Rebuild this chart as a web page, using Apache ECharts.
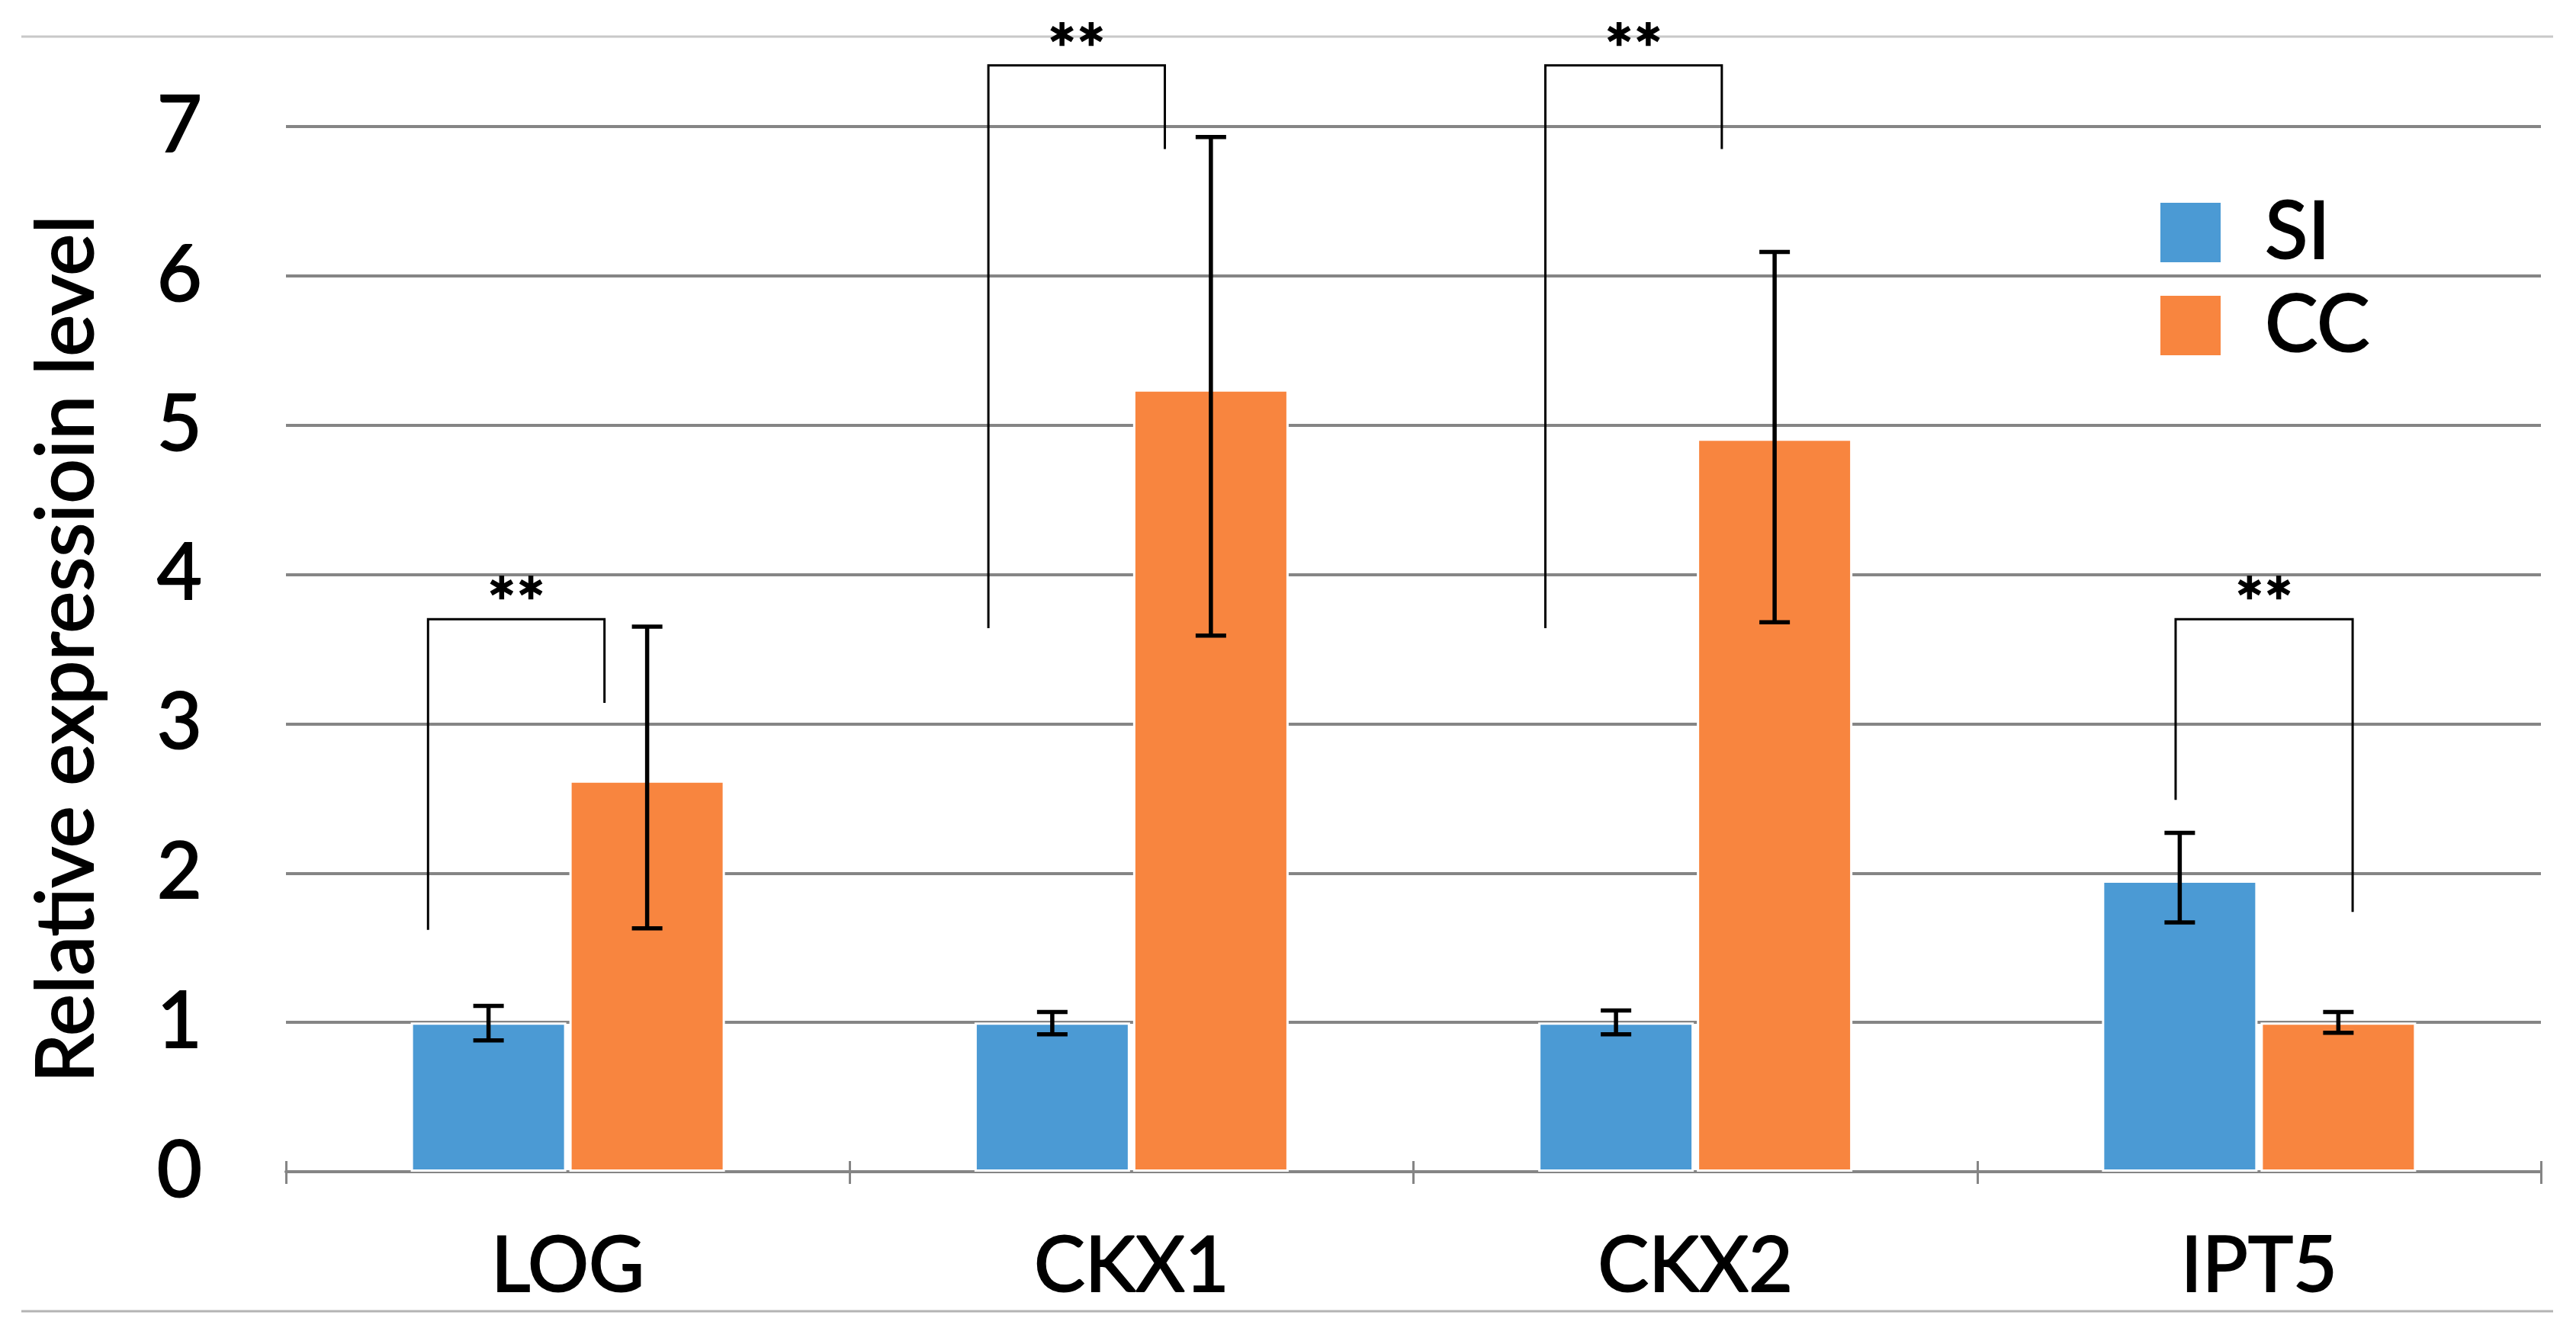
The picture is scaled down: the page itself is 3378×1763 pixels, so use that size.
<!DOCTYPE html>
<html>
<head>
<meta charset="utf-8">
<script src="https://cdn.jsdelivr.net/npm/echarts@6/dist/echarts.min.js"></script>
<style>
html,body{margin:0;padding:0;background:#fff;}
#chart{width:3378px;height:1763px;}
</style>
</head>
<body>
<div id="chart"></div>
<script>
// ---- data ----
const categories = ['LOG', 'CKX1', 'CKX2', 'IPT5'];
const seriesNames = ['SI', 'CC'];
const siValues = [1.00, 1.00, 1.00, 1.95];
const ccValues = [2.62, 5.24, 4.91, 1.00];
const siErrLow  = [0.88, 0.92, 0.92, 1.67];
const siErrHigh = [1.11, 1.07, 1.08, 2.27];
const ccErrLow  = [1.63, 3.59, 3.68, 0.93];
const ccErrHigh = [3.65, 6.93, 6.16, 1.07];
const yTickValues = [0, 1, 2, 3, 4, 5, 6, 7];
const sigLabels = ['**', '**', '**', '**'];
const bracketTop = [3.70, 7.41, 7.41, 3.70];
const bracketLeftEnd = [1.62, 3.64, 3.64, 2.49];
const bracketRightEnd = [3.14, 6.85, 6.85, 1.74];

// ---- layout / style (not data) ----
const bracketLegLeft = [-0.248, -0.254, -0.266, -0.148];   // fraction of band from category centre
const bracketLegRight = [0.065, 0.059, 0.047, 0.166];
const BLUE = '#4B9AD4', ORANGE = '#F8853F', GRID = '#858585';
const FONT = 'Lato';
const BAR_W = 204, BAR_GAP_PX = 4;
const barOffset = (BAR_W + BAR_GAP_PX) / 2;
const thick = {textBorderColor: '#000', textBorderWidth: 2};

const chart = echarts.init(document.getElementById('chart'), null, {renderer: 'canvas'});

function errRender(sign) {
  return function (params, api) {
    const i = api.value(0);
    const lo = api.coord([i, api.value(1)]);
    const hi = api.coord([i, api.value(2)]);
    const x = lo[0] + sign * barOffset;
    const cap = 20;
    const st = {stroke: '#000', lineWidth: 5.5};
    return {
      type: 'group',
      children: [
        {type: 'line', shape: {x1: x, y1: lo[1], x2: x, y2: hi[1]}, style: st},
        {type: 'line', shape: {x1: x - cap, y1: lo[1], x2: x + cap, y2: lo[1]}, style: st},
        {type: 'line', shape: {x1: x - cap, y1: hi[1], x2: x + cap, y2: hi[1]}, style: st}
      ]
    };
  };
}

function bracketRender(params, api) {
  const i = api.value(0);
  const bw = api.size([1, 0])[0];
  const t = api.coord([i, api.value(1)]);
  const l = api.coord([i, api.value(2)]);
  const r = api.coord([i, api.value(3)]);
  const xl = t[0] + bracketLegLeft[i] * bw;
  const xr = t[0] + bracketLegRight[i] * bw;
  return {
    type: 'group',
    children: [
      {type: 'polyline', shape: {points: [[xl, l[1]], [xl, t[1]], [xr, t[1]], [xr, r[1]]]},
       style: {stroke: '#000', lineWidth: 3, fill: null}},
      {type: 'text', x: (xl + xr) / 2, y: t[1] - 17,
       style: {text: sigLabels[i], font: '90px ' + FONT, fill: '#000',
               stroke: '#000', lineWidth: 2.5,
               align: 'center', verticalAlign: 'middle'}}
    ]
  };
}

const option = {
  backgroundColor: '#fff',
  animation: false,
  grid: {left: 375, right: 46, top: 166, bottom: 226},
  legend: {
    data: seriesNames,
    orient: 'vertical',
    left: 2828, top: 247,
    icon: 'rect',
    itemWidth: 79, itemHeight: 78, itemGap: 16,
    itemStyle: {borderWidth: 0},
    textStyle: Object.assign({fontFamily: FONT, fontSize: 104, color: '#000', padding: [0, 0, 0, 53]}, thick)
  },
  graphic: [
    {type: 'line', shape: {x1: 28, y1: 48, x2: 3348, y2: 48}, style: {stroke: '#c8c8c8', lineWidth: 3}},
    {type: 'line', shape: {x1: 28, y1: 1720, x2: 3348, y2: 1720}, style: {stroke: '#b4b4b4', lineWidth: 3}}
  ],
  xAxis: [{
    type: 'category', data: categories,
    axisLine: {lineStyle: {color: GRID, width: 4}},
    axisTick: {show: true, length: 16, lineStyle: {color: GRID, width: 3}},
    axisLabel: Object.assign({fontFamily: FONT, fontSize: 100, color: '#000', margin: 75}, thick),
    splitLine: {show: false}
  }, {
    type: 'category', data: categories, position: 'bottom',
    axisLine: {show: false},
    axisTick: {show: true, inside: true, length: 14, lineStyle: {color: GRID, width: 3}},
    axisLabel: {show: false}
  }],
  yAxis: {
    type: 'value', min: yTickValues[0], max: yTickValues[yTickValues.length - 1], interval: 1,
    axisLine: {show: false}, axisTick: {show: false},
    axisLabel: Object.assign({fontFamily: FONT, fontSize: 102, color: '#000', margin: 110}, thick),
    splitLine: {lineStyle: {color: GRID, width: 4}},
    name: 'Relative expressioin level', nameLocation: 'middle', nameGap: 235,
    nameTextStyle: Object.assign({fontFamily: FONT, fontSize: 104, color: '#000'}, thick)
  },
  series: [
    {name: seriesNames[0], type: 'bar', data: siValues, barWidth: BAR_W, barGap: (BAR_GAP_PX / BAR_W * 100) + '%',
     itemStyle: {color: BLUE, borderColor: '#fff', borderWidth: 3}},
    {name: seriesNames[1], type: 'bar', data: ccValues, barWidth: BAR_W,
     itemStyle: {color: ORANGE, borderColor: '#fff', borderWidth: 3}},
    {type: 'custom', renderItem: errRender(-1), z: 5, clip: false,
     data: categories.map((c, i) => [i, siErrLow[i], siErrHigh[i]]), encode: {x: 0, y: [1, 2]}},
    {type: 'custom', renderItem: errRender(1), z: 5, clip: false,
     data: categories.map((c, i) => [i, ccErrLow[i], ccErrHigh[i]]), encode: {x: 0, y: [1, 2]}},
    {type: 'custom', renderItem: bracketRender, z: 6, clip: false,
     data: categories.map((c, i) => [i, bracketTop[i], bracketLeftEnd[i], bracketRightEnd[i]]), encode: {x: 0, y: 1}}
  ]
};
chart.setOption(option);
</script>
</body>
</html>
